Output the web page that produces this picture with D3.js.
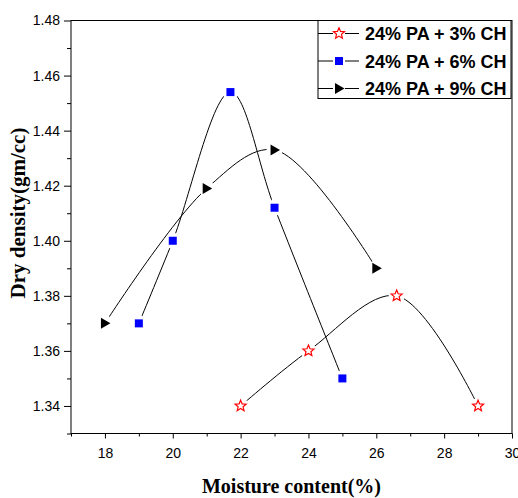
<!DOCTYPE html>
<html>
<head>
<meta charset="utf-8">
<script src="https://cdn.jsdelivr.net/npm/d3@7"></script>
<style>
  html, body { margin: 0; padding: 0; background: #fff; }
  svg { display: block; }
</style>
</head>
<body>
<svg id="chart" width="518" height="498"></svg>
<script>
/// data ///
const seriesNames = ["24% PA + 3% CH", "24% PA + 6% CH", "24% PA + 9% CH"];
const moisture3 = [22, 24, 26.6, 29];
const density3 = [1.34, 1.36, 1.38, 1.34];
const moisture6 = [19, 20, 21.7, 23, 25];
const density6 = [1.37, 1.40, 1.454, 1.412, 1.35];
const moisture9 = [18, 21, 23, 26];
const density9 = [1.37, 1.419, 1.433, 1.39];
const xMajorTicks = [18, 20, 22, 24, 26, 28, 30];
const xMinorTicks = [17, 19, 21, 23, 25, 27, 29];
const yMajorTicks = [1.34, 1.36, 1.38, 1.40, 1.42, 1.44, 1.46, 1.48];
const yMinorTicks = [1.33, 1.35, 1.37, 1.39, 1.41, 1.43, 1.45, 1.47];

/// layout ///
const margin = {top: 20.5, left: 71, right: 6, bottom: 64.5};
const width = 518, height = 498;
const x0 = margin.left, x1 = width - margin.right;
const y0 = margin.top, y1 = height - margin.bottom;

const svg = d3.select("#chart");

const x = d3.scaleLinear().domain([17, 30]).range([x0, x1]);
const y = d3.scaleLinear().domain([1.33, 1.48]).range([y1, y0]);

// marker shapes
const starPath = (() => {
  const pts = [];
  for (let i = 0; i < 10; i++) {
    const r = i % 2 === 0 ? 5.8 : 2.6;
    const a = -Math.PI / 2 + i * Math.PI / 5;
    pts.push([r * Math.cos(a), r * Math.sin(a)]);
  }
  return "M" + pts.map(p => p.join(",")).join("L") + "Z";
})();
const trianglePath = "M-4,-5.5L5.5,0L-4,5.5Z";

const series = [
  {name: seriesNames[0], xs: moisture3, ys: density3, marker: "star"},
  {name: seriesNames[1], xs: moisture6, ys: density6, marker: "square"},
  {name: seriesNames[2], xs: moisture9, ys: density9, marker: "triangle"}
];

function drawMarker(g, type) {
  if (type === "star") {
    g.append("path").attr("d", starPath)
      .attr("fill", "#fff").attr("stroke", "#ff0000").attr("stroke-width", 1.2);
  } else if (type === "square") {
    g.append("rect").attr("x", -4).attr("y", -4).attr("width", 8).attr("height", 8)
      .attr("fill", "#0000ff");
  } else {
    g.append("path").attr("d", trianglePath).attr("fill", "#000");
  }
}

const defs = svg.append("defs");
const line = d3.line().curve(d3.curveCatmullRom.alpha(0.5));

// curves with gaps round their own symbols
series.forEach((s, i) => {
  const pts = s.xs.map((v, j) => [x(v), y(s.ys[j])]);
  const mask = defs.append("mask").attr("id", "gap" + i)
    .attr("maskUnits", "userSpaceOnUse")
    .attr("x", 0).attr("y", 0).attr("width", width).attr("height", height);
  mask.append("rect").attr("width", width).attr("height", height).attr("fill", "#fff");
  pts.forEach(p => mask.append("circle").attr("cx", p[0]).attr("cy", p[1]).attr("r", 8).attr("fill", "#000"));

  svg.append("path")
    .attr("d", line(pts))
    .attr("fill", "none")
    .attr("stroke", "#000")
    .attr("stroke-width", 1)
    .attr("mask", `url(#gap${i})`);
});

series.forEach(s => {
  s.xs.forEach((v, j) => {
    const g = svg.append("g").attr("transform", `translate(${x(v)},${y(s.ys[j])})`);
    drawMarker(g, s.marker);
  });
});

/// axes ///
const axisFont = "'Liberation Sans', Arial, sans-serif";

const xAxisG = svg.append("g").attr("transform", `translate(0,${y1})`);
xAxisG.call(d3.axisBottom(x).tickValues(xMajorTicks).tickSize(5).tickSizeOuter(0).tickFormat(d3.format("d")))
  .call(g => g.select(".domain").remove())
  .call(g => g.selectAll("text").attr("font-size", "14px").attr("font-family", axisFont)
    .attr("fill", "#000").attr("dy", "0.71em").attr("y", 15));
xAxisG.append("g").call(d3.axisBottom(x).tickValues(xMinorTicks).tickSize(3).tickFormat(""))
  .call(g => g.select(".domain").remove());

const yAxisG = svg.append("g").attr("transform", `translate(${x0},0)`);
yAxisG.call(d3.axisLeft(y).tickValues(yMajorTicks).tickSize(7).tickSizeOuter(0).tickFormat(d3.format(".2f")))
  .call(g => g.select(".domain").remove())
  .call(g => g.selectAll("text").attr("font-size", "14px").attr("font-family", axisFont)
    .attr("fill", "#000").attr("x", -11));
yAxisG.append("g").call(d3.axisLeft(y).tickValues(yMinorTicks).tickSize(4).tickFormat(""))
  .call(g => g.select(".domain").remove());

svg.selectAll(".tick line").attr("stroke", "#000");

// frame
svg.append("rect")
  .attr("x", x0).attr("y", y0).attr("width", x1 - x0).attr("height", y1 - y0)
  .attr("fill", "none").attr("stroke", "#000").attr("stroke-width", 1);

// axis titles
const titleFont = "'Liberation Serif', 'Times New Roman', serif";
svg.append("text")
  .attr("x", (x0 + x1) / 2).attr("y", 493)
  .attr("text-anchor", "middle")
  .attr("font-family", titleFont).attr("font-weight", "bold").attr("font-size", "20px")
  .text("Moisture content(%)");
svg.append("text")
  .attr("transform", `translate(25,${213}) rotate(-90)`)
  .attr("text-anchor", "middle")
  .attr("font-family", titleFont).attr("font-weight", "bold").attr("font-size", "21px")
  .text("Dry density(gm/cc)");

/// legend ///
const legend = svg.append("g");
legend.append("rect")
  .attr("x", 318).attr("y", y0).attr("width", 193).attr("height", 78)
  .attr("fill", "#fff").attr("stroke", "#000").attr("stroke-width", 1);
series.forEach((s, i) => {
  const cy = 33.5 + i * 27.5;
  legend.append("line").attr("x1", 318).attr("x2", 333).attr("y1", cy).attr("y2", cy).attr("stroke", "#000");
  legend.append("line").attr("x1", 345).attr("x2", 359).attr("y1", cy).attr("y2", cy).attr("stroke", "#000");
  const g = legend.append("g").attr("transform", `translate(339,${cy})`);
  drawMarker(g, s.marker);
  legend.append("text")
    .attr("x", 365).attr("y", cy + 6.5)
    .attr("font-family", axisFont).attr("font-weight", "bold").attr("font-size", "18px")
    .text(s.name);
});
</script>
</body>
</html>
